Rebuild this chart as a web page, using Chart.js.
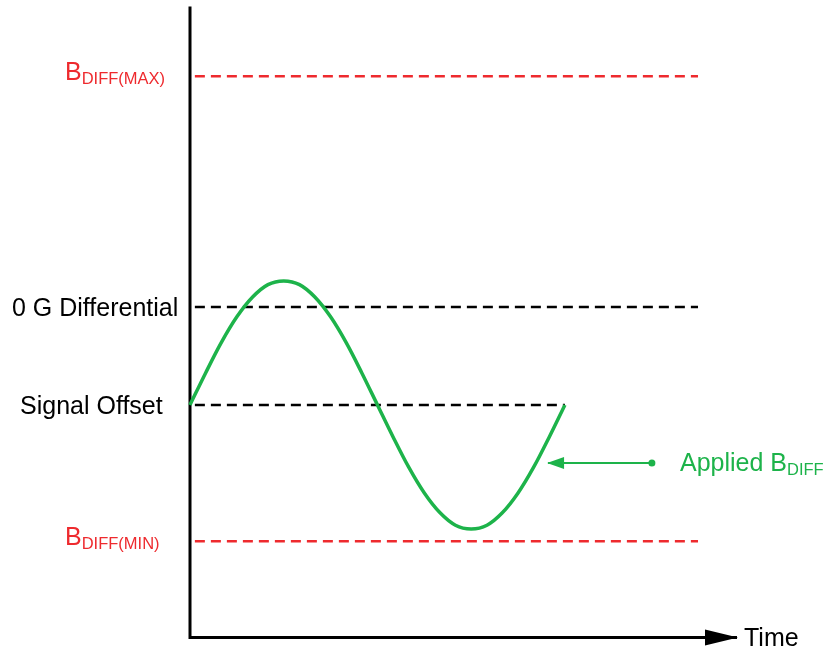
<!DOCTYPE html>
<html>
<head>
<meta charset="utf-8">
<script src="https://cdn.jsdelivr.net/npm/chart.js@4/dist/chart.umd.min.js"></script>
<style>
  html, body { margin: 0; padding: 0; background: #fff; }
  #wrap { width: 827px; height: 649px; }
</style>
</head>
<body>
<div id="wrap"><canvas id="sensorChart" width="827" height="649"></canvas></div>
<script>
// time in signal periods, field in units of the applied amplitude (offset = 0)
const timeVals = [0, 0.042, 0.083, 0.125, 0.167, 0.208, 0.25, 0.292, 0.333, 0.375, 0.417, 0.458, 0.5,
    0.542, 0.583, 0.625, 0.667, 0.708, 0.75, 0.792, 0.833, 0.875, 0.917, 0.958, 1.0];
const signalVals = [0, 0.26, 0.5, 0.71, 0.87, 0.97, 1, 0.97, 0.87, 0.71, 0.5, 0.26, 0,
    -0.26, -0.5, -0.71, -0.87, -0.97, -1, -0.97, -0.87, -0.71, -0.5, -0.26, 0];

// reference levels
const levelMain = ["B", "0 G Differential", "Signal Offset", "B"];
const levelSub = ["DIFF(MAX)", "", "", "DIFF(MIN)"];
const levelVals = [2.65, 0.79, 0, -1.1];
const levelEnd = [1.355, 1.355, 1.0, 1.355];
const levelStart = 0.013;

// annotation arrow pointing at the curve
const arrowFrom = { x: 1.232, y: -0.468 };
const arrowTo = { x: 0.955, y: -0.468 };
const arrowMain = "Applied B";
const arrowSub = "DIFF";

const xMax = 1.459;
const yMin = -1.875;
const yMax = 3.2;
const xAxisTitle = "Time";

const red = "#ee2a2e";
const green = "#1db34a";
const black = "#000000";
const font = "'Liberation Sans', Arial, sans-serif";

const labelX = [65, 12, 20, 65];
const labelDy = [4, 9, 9, 4];

function dashColor(i) {
    return levelSub[i] ? red : black;
}

let datasets = [];

datasets.push({
    label: "signal",
    data: timeVals.map(function (t, i) { return { x: t, y: signalVals[i] }; }),
    borderColor: green,
    borderWidth: 3.5,
    pointRadius: 0,
    cubicInterpolationMode: "monotone",
    clip: false
});

levelVals.forEach(function (v, i) {
    datasets.push({
        label: "level" + i,
        data: [{ x: levelStart, y: v }, { x: levelEnd[i], y: v }],
        borderColor: dashColor(i),
        borderWidth: 2.5,
        borderDash: [10, 6],
        pointRadius: 0,
        clip: false
    });
});

datasets.push({
    label: "pointer",
    data: [arrowFrom, arrowTo],
    borderColor: green,
    backgroundColor: green,
    borderWidth: 2,
    pointRadius: [3.5, 0],
    pointBackgroundColor: green,
    pointBorderWidth: 0,
    arrow: { len: 16, half: 6 },
    clip: false
});

datasets.push({
    label: "yaxis",
    data: [{ x: 0, y: yMin }, { x: 0, y: yMax }],
    borderColor: black,
    borderWidth: 3,
    pointRadius: 0,
    borderCapStyle: "square",
    clip: false
});

datasets.push({
    label: "xaxis",
    data: [{ x: 0, y: yMin }, { x: xMax, y: yMin }],
    borderColor: black,
    backgroundColor: black,
    borderWidth: 3,
    pointRadius: 0,
    arrow: { len: 32, half: 8 },
    clip: false
});

function drawSubText(ctx, main, sub, x, y, color) {
    ctx.fillStyle = color;
    ctx.textBaseline = "alphabetic";
    ctx.textAlign = "left";
    ctx.font = "25px " + font;
    ctx.fillText(main, x, y);
    if (sub) {
        let w = ctx.measureText(main).width;
        ctx.font = "16.5px " + font;
        ctx.fillText(sub, x + w, y + 4);
    }
}

const decorPlugin = {
    id: "decor",
    afterDatasetsDraw: function (chart) {
        let ctx = chart.ctx;
        let xs = chart.scales.x;
        let ys = chart.scales.y;
        ctx.save();

        // arrow heads
        chart.data.datasets.forEach(function (ds) {
            if (!ds.arrow) return;
            let p1 = ds.data[ds.data.length - 2];
            let p2 = ds.data[ds.data.length - 1];
            let x1 = xs.getPixelForValue(p1.x), y1 = ys.getPixelForValue(p1.y);
            let x2 = xs.getPixelForValue(p2.x), y2 = ys.getPixelForValue(p2.y);
            let a = Math.atan2(y2 - y1, x2 - x1);
            let bx = x2 - Math.cos(a) * ds.arrow.len;
            let by = y2 - Math.sin(a) * ds.arrow.len;
            ctx.fillStyle = ds.backgroundColor;
            ctx.beginPath();
            ctx.moveTo(x2 + Math.cos(a) * 1, y2 + Math.sin(a) * 1);
            ctx.lineTo(bx - Math.sin(a) * ds.arrow.half, by + Math.cos(a) * ds.arrow.half);
            ctx.lineTo(bx + Math.sin(a) * ds.arrow.half, by - Math.cos(a) * ds.arrow.half);
            ctx.closePath();
            ctx.fill();
        });

        // level labels
        levelMain.forEach(function (m, i) {
            let y = ys.getPixelForValue(levelVals[i]) + labelDy[i];
            drawSubText(ctx, m, levelSub[i], labelX[i], y, dashColor(i));
        });

        // pointer label
        drawSubText(ctx, arrowMain, arrowSub, 680, ys.getPixelForValue(arrowFrom.y) + 8, green);

        // time label
        ctx.font = "25px " + font;
        ctx.fillStyle = black;
        ctx.fillText(xAxisTitle, 744, ys.getPixelForValue(yMin) + 8);

        ctx.restore();
    }
};

const ctx = document.getElementById("sensorChart");

new Chart(ctx, {
    type: "line",
    data: { datasets: datasets },
    options: {
        responsive: false,
        animation: false,
        layout: {
            padding: { left: 190, right: 90, top: 8, bottom: 11.5 }
        },
        plugins: {
            legend: { display: false },
            tooltip: { enabled: false }
        },
        scales: {
            x: { type: "linear", min: 0, max: xMax, display: false },
            y: { type: "linear", min: yMin, max: yMax, display: false }
        }
    },
    plugins: [decorPlugin]
});
</script>
</body>
</html>
